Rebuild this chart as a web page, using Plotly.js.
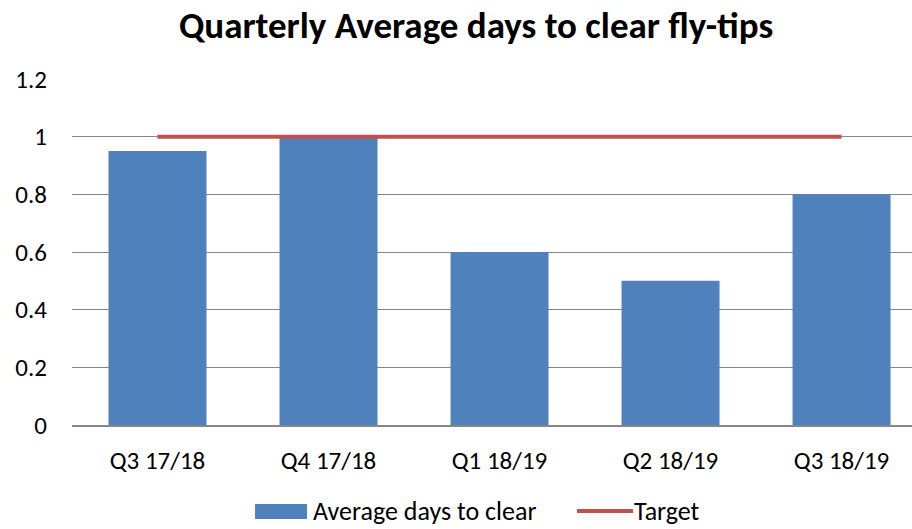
<!DOCTYPE html>
<html><head><meta charset="utf-8">
<script src="https://cdn.plot.ly/plotly-3.0.1.min.js"></script>
<style>html,body{margin:0;padding:0;background:#fff}#chart{width:912px;height:529px}</style>
</head><body><div id="chart"></div>
<script>
const categories = ["Q3 17/18", "Q4 17/18", "Q1 18/19", "Q2 18/19", "Q3 18/19"];
const avgDays = [0.95, 1.0, 0.6, 0.5, 0.8];
const target = [1, 1, 1, 1, 1];
const yTicks = [0, 0.2, 0.4, 0.6, 0.8, 1, 1.2];
const yTickText = ["0", "0.2", "0.4", "0.6", "0.8", "1", "1.2"];
const seriesNames = ["Average days to clear", "Target"];

const FONT = "Carlito, Calibri, 'Open Sans', sans-serif";
const BLUE = "#4F81BD", RED = "#C0504D";

const data = [
  {type: "bar", name: seriesNames[0], x: categories, y: avgDays,
   marker: {color: BLUE}, width: 0.573, hoverinfo: "x+y"},
  {type: "scatter", mode: "lines", name: seriesNames[1], x: categories, y: target,
   line: {color: RED, width: 4}}
];

// custom legend (larger swatches, as in the reference)
const legY = -0.2486;
const shapes = [
  {type: "rect", xref: "paper", yref: "paper", x0: 0.2179, x1: 0.2798,
   y0: -0.2283, y1: -0.2717, fillcolor: BLUE, line: {width: 0}},
  {type: "line", xref: "paper", yref: "paper", x0: 0.6012, x1: 0.6679,
   y0: legY, y1: legY, line: {color: RED, width: 4}}
];
const annotations = [
  {text: seriesNames[0], xref: "paper", yref: "paper", x: 0.2845, y: legY,
   xanchor: "left", yanchor: "middle", showarrow: false, font: {size: 26, family: FONT, color: "#000"}},
  {text: seriesNames[1], xref: "paper", yref: "paper", x: 0.6667, y: legY,
   xanchor: "left", yanchor: "middle", showarrow: false, font: {size: 26, family: FONT, color: "#000"}}
];

const layout = {
  width: 912, height: 529,
  margin: {l: 72, r: 0, t: 79, b: 104},
  paper_bgcolor: "#fff", plot_bgcolor: "#fff",
  font: {family: FONT, size: 25, color: "#000"},
  title: {text: "<b>Quarterly Average days to clear fly-tips</b>",
          font: {family: FONT, size: 37, color: "#000"},
          x: 0.522, xref: "container", xanchor: "center",
          y: 0.952, yref: "container", yanchor: "middle"},
  xaxis: {type: "category", range: [-0.5, 4.412], showgrid: false, zeroline: false,
          showline: true, linecolor: "#868686", linewidth: 1.5,
          ticks: "", ticklabelstandoff: 12, tickfont: {size: 25}},
  yaxis: {range: [0, 1.2], tickvals: yTicks, ticktext: yTickText,
          showgrid: true, gridcolor: "#868686", gridwidth: 1,
          zeroline: false, showline: false, ticks: "",
          ticklabelstandoff: 24, tickfont: {size: 25}},
  showlegend: false,
  shapes: shapes,
  annotations: annotations
};

Plotly.newPlot("chart", data, layout, {staticPlot: true});
</script></body></html>
